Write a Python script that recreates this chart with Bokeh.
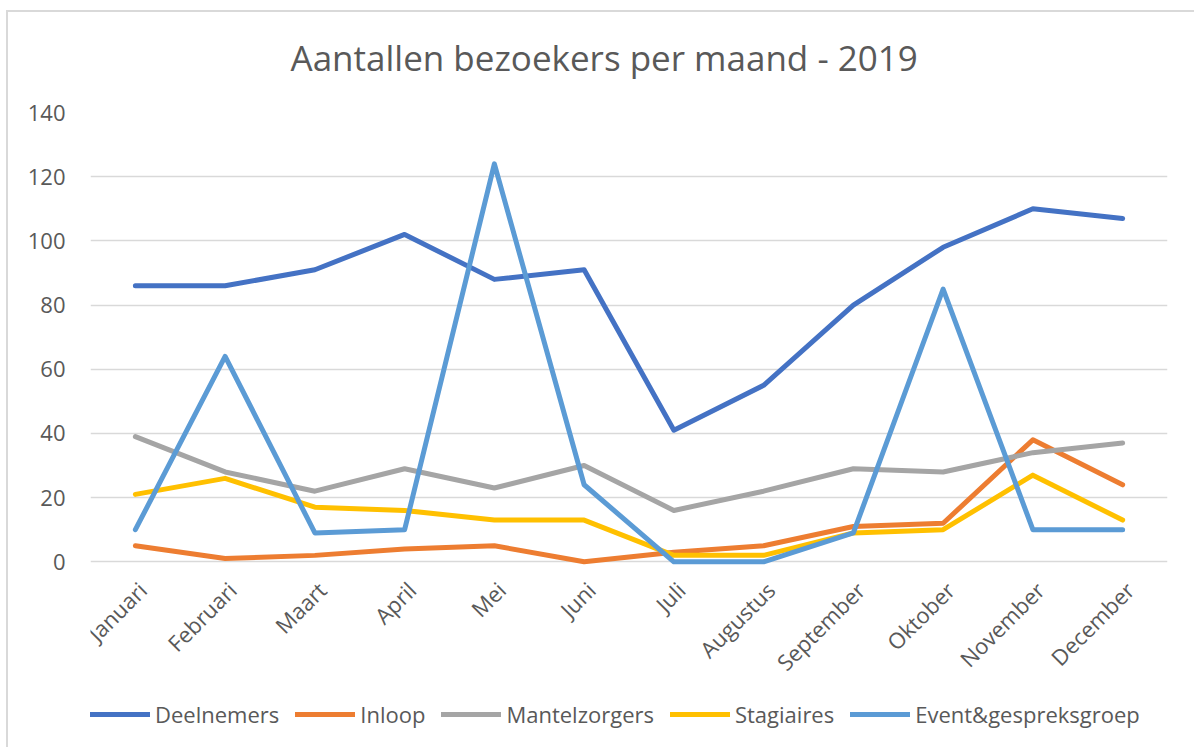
import math
from bokeh.plotting import figure
from bokeh.models import Range1d, FactorRange, Legend, LegendItem, FixedTicker
from bokeh.core.properties import value
from bokeh.embed import file_html
from bokeh.resources import INLINE

months = ["Januari", "Februari", "Maart", "April", "Mei", "Juni", "Juli",
          "Augustus", "September", "Oktober", "November", "December"]
deelnemers = [86, 86, 91, 102, 88, 91, 41, 55, 80, 98, 110, 107]
inloop = [5, 1, 2, 4, 5, 0, 3, 5, 11, 12, 38, 24]
mantelzorgers = [39, 28, 22, 29, 23, 30, 16, 22, 29, 28, 34, 37]
stagiaires = [21, 26, 17, 16, 13, 13, 2, 2, 9, 10, 27, 13]
event = [10, 64, 9, 10, 124, 24, 0, 0, 9, 85, 10, 10]
y_ticks = [0, 20, 40, 60, 80, 100, 120, 140]

series = [
    ("Deelnemers", deelnemers, "#4472C4"),
    ("Inloop", inloop, "#ED7D31"),
    ("Mantelzorgers", mantelzorgers, "#A5A5A5"),
    ("Stagiaires", stagiaires, "#FFC000"),
    ("Event&gespreksgroep", event, "#5B9BD5"),
]

FONT = "Open Sans"
TXT = "#595959"

W, H = 1194, 747
TOP, LEFT, RIGHT = 111, 90, 27
PLOT_H = 450                     # pixels between 0 and 140
frame_h = H - TOP
y_lo = -(frame_h - PLOT_H) * 140 / PLOT_H   # room under zero for month labels and legend

p = figure(width=W, height=H, x_range=FactorRange(*months, range_padding=0),
           y_range=Range1d(y_lo, 140), output_backend="svg", toolbar_location=None,
           min_border_left=LEFT, min_border_right=RIGHT, min_border_top=TOP,
           min_border_bottom=0)

p.styles = {
    "background-color": "white",
    "background-image": "linear-gradient(#d9d9d9, #d9d9d9), linear-gradient(#d9d9d9, #d9d9d9)",
    "background-size": "2px 740px, 1190px 2px",
    "background-position": "6px 10px, 6px 10px",
    "background-repeat": "no-repeat",
}
p.border_fill_alpha = 0
p.background_fill_color = "white"

p.title.text = "Aantallen bezoekers per maand - 2019"
p.title.text_font = FONT
p.title.text_font_size = "35px"
p.title.text_font_style = "normal"
p.title.text_color = TXT
p.title.align = "left"
p.title.offset = 200
p.title.standoff = 63

p.outline_line_color = None
p.xgrid.grid_line_color = None
p.ygrid.grid_line_color = "#D9D9D9"
p.ygrid.grid_line_width = 1.5

p.xaxis.visible = False

p.yaxis.ticker = FixedTicker(ticks=y_ticks)
p.yaxis.axis_line_color = None
p.yaxis.major_tick_line_color = None
p.yaxis.minor_tick_line_color = None
p.yaxis.major_tick_out = 0
p.yaxis.major_tick_in = 0
p.yaxis.major_label_standoff = 25
p.yaxis.major_label_text_font = FONT
p.yaxis.major_label_text_font_size = "22px"
p.yaxis.major_label_text_color = TXT

items = []
for name, vals, color in series:
    r = p.line(months, vals, line_color=color, line_width=5,
               line_join="round", line_cap="round")
    items.append(LegendItem(label=name, renderers=[r]))

# month labels (category axis), rotated like the original
p.text(x=months, y=[0] * len(months), text=months, angle=math.pi / 4,
       text_align="right", text_baseline="middle", x_offset=7, y_offset=24,
       text_font=value(FONT), text_font_size=value("22px"), text_color=TXT)

legend = Legend(items=items, orientation="horizontal", location=(0, 18),
                label_text_font=FONT, label_text_font_size="22px", label_text_color=TXT,
                glyph_width=60, glyph_height=24, label_standoff=5, spacing=16,
                padding=0, margin=0, border_line_color=None, background_fill_alpha=0)
p.add_layout(legend, "center")

open("out.html", "w").write(file_html(p, INLINE))
